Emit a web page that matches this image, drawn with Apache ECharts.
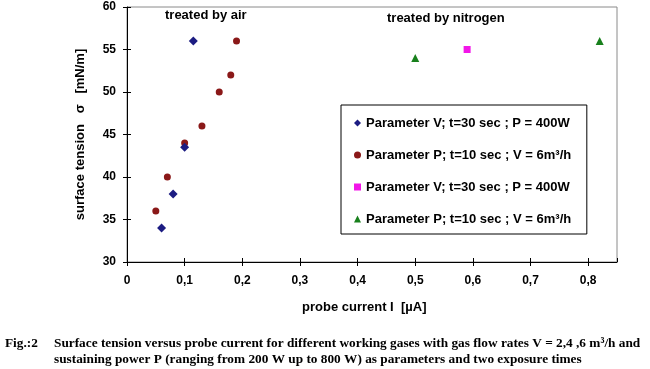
<!DOCTYPE html>
<html>
<head>
<meta charset="utf-8">
<script src="https://cdn.jsdelivr.net/npm/echarts@6/dist/echarts.min.js"></script>
<style>
html,body{margin:0;padding:0;background:#fff;}
#main{width:650px;height:369px;}
</style>
</head>
<body>
<div id="main"></div>
<script>
// Data (probe current [µA], surface tension [mN/m])
const airVCurrent = [0.06, 0.08, 0.10, 0.115];
const airVTension = [34, 38, 43.5, 56];
const airPCurrent = [0.05, 0.07, 0.10, 0.13, 0.16, 0.18, 0.19];
const airPTension = [36, 40, 44, 46, 50, 52, 56];
const n2VCurrent = [0.59];
const n2VTension = [55];
const n2PCurrent = [0.50, 0.82];
const n2PTension = [54, 56];
const seriesNames = [
  'Parameter V; t=30 sec ; P = 400W',
  'Parameter P; t=10 sec ; V = 6m\u00b3/h',
  'Parameter V; t=30 sec ; P = 400W ',
  'Parameter P; t=10 sec ; V = 6m\u00b3/h '
];
const xTicks = ['0','0,1','0,2','0,3','0,4','0,5','0,6','0,7','0,8'];
const yTicks = ['30','35','40','45','50','55','60'];

const zip = (a, b) => a.map((v, i) => [v, b[i]]);
const F = 'Liberation Sans, Arial, sans-serif';
const S = 'Liberation Serif, Times New Roman, serif';

const chart = echarts.init(document.getElementById('main'), null, {renderer: 'canvas'});
const xFmt = v => { const i = Math.round(v * 10); return Math.abs(v * 10 - i) < 1e-6 && i < xTicks.length ? xTicks[i] : ''; };
const yFmt = v => { const i = Math.round((v - 30) / 5); return yTicks[i] !== undefined ? yTicks[i] : ''; };

const gridL = 127, gridT = 7, gridW = 490, gridH = 255;
chart.setOption({
  animation: false,
  backgroundColor: '#fff',
  grid: {left: gridL, top: gridT, width: gridW, height: gridH, show: true, borderColor: '#8a8a8a', borderWidth: 1},
  xAxis: [{
    type: 'value', min: 0, max: 0.85, interval: 0.1,
    axisLine: {show: true, lineStyle: {color: '#000', width: 1}},
    axisTick: {show: true, length: 4, lineStyle: {color: '#000'}},
    splitLine: {show: false},
    axisLabel: {formatter: xFmt, color: '#000', fontFamily: F, fontSize: 12, fontWeight: 'bold', margin: 13, showMaxLabel: false}
  }, {
    type: 'value', min: 0, max: 0.85, interval: 0.1, position: 'bottom', gridIndex: 0,
    axisLine: {show: false},
    axisTick: {show: true, inside: true, length: 4, lineStyle: {color: '#000'}},
    splitLine: {show: false}, axisLabel: {show: false}
  }],
  yAxis: [{
    type: 'value', min: 30, max: 60, interval: 5,
    axisLine: {show: true, lineStyle: {color: '#000', width: 1}},
    axisTick: {show: true, length: 4, lineStyle: {color: '#000'}},
    splitLine: {show: false},
    axisLabel: {formatter: yFmt, color: '#000', fontFamily: F, fontSize: 12, fontWeight: 'bold', margin: 11},
    name: 'surface tension   \u03c3   [mN/m]', nameLocation: 'middle', nameGap: 40, nameRotate: 90,
    nameTextStyle: {color: '#000', fontFamily: F, fontSize: 13, fontWeight: 'bold'}
  }, {
    type: 'value', min: 30, max: 60, interval: 5, position: 'left', gridIndex: 0,
    axisLine: {show: false},
    axisTick: {show: true, inside: true, length: 4, lineStyle: {color: '#000'}},
    splitLine: {show: false}, axisLabel: {show: false}
  }],
  legend: {
    orient: 'vertical', left: 341, top: 105,
    padding: [11, 12, 8, 13],
    itemGap: 18, itemWidth: 7, itemHeight: 7,
    backgroundColor: '#fff', borderColor: '#000', borderWidth: 1,
    textStyle: {color: '#000', fontFamily: F, fontSize: 13, fontWeight: 'bold', lineHeight: 14},
    data: seriesNames
  },
  series: [
    {name: seriesNames[0], type: 'scatter', symbol: 'diamond', symbolSize: 9,
     itemStyle: {color: '#1c1c82', opacity: 1}, data: zip(airVCurrent, airVTension), z: 3},
    {name: seriesNames[1], type: 'scatter', symbol: 'circle', symbolSize: 7,
     itemStyle: {color: '#8a1818', opacity: 1}, data: zip(airPCurrent, airPTension), z: 2},
    {name: seriesNames[2], type: 'scatter', symbol: 'rect', symbolSize: 7,
     itemStyle: {color: '#f216e8', opacity: 1}, data: zip(n2VCurrent, n2VTension)},
    {name: seriesNames[3], type: 'scatter', symbol: 'triangle', symbolSize: 8,
     itemStyle: {color: '#18801c', opacity: 1}, data: zip(n2PCurrent, n2PTension)}
  ],
  graphic: [
    {type: 'text', left: 165, top: 9, style: {text: 'treated by air', fill: '#000', font: 'bold 13px ' + F}},
    {type: 'text', left: 387, top: 12, style: {text: 'treated by nitrogen', fill: '#000', font: 'bold 13px ' + F}},
    {type: 'text', left: 302, top: 301, style: {text: 'probe current I  [\u00b5A]', fill: '#000', font: 'bold 13px ' + F}},
    {type: 'text', left: 5, top: 337, style: {text: 'Fig.:2', fill: '#000', font: 'bold 13.3px ' + S}},
    {type: 'text', left: 54, top: 337, style: {text: 'Surface tension versus probe current for different working gases with gas flow rates V = 2,4 ,6 m\u00b3/h and', fill: '#000', font: 'bold 13.3px ' + S}},
    {type: 'text', left: 54, top: 353, style: {text: 'sustaining power P (ranging from 200 W up to 800 W) as parameters and two exposure times', fill: '#000', font: 'bold 13.3px ' + S}}
  ]
});
</script>
</body>
</html>
